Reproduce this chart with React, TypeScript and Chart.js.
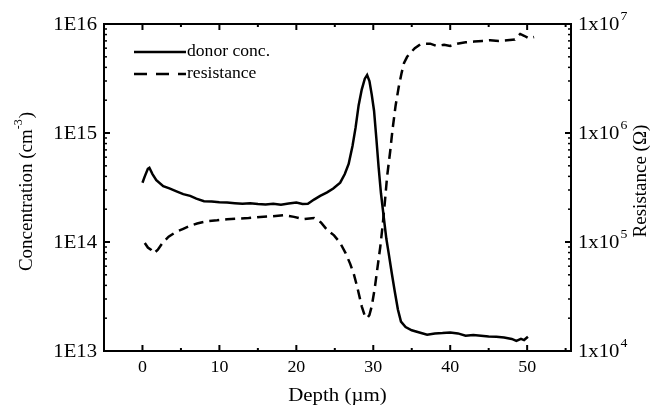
import React, { useEffect, useRef } from "react";
import { Chart, registerables } from "chart.js";

Chart.register(...registerables);

// Depth (µm) and donor concentration (cm^-3)
const donorDepth = [0.0, 0.3, 0.7, 0.9, 1.3, 1.8, 2.7, 3.5, 4.5, 5.3, 6.2, 7.0, 8.0, 9.0, 10, 11, 12, 13, 14, 15, 16, 17, 18, 19, 20, 20.8, 21.5, 22.3, 23.1, 24.0, 24.8, 25.7, 26.3, 26.8, 27.3, 27.7, 28.1, 28.5, 28.9, 29.2, 29.5, 29.8, 30.1, 30.4, 30.7, 31.0, 31.4, 31.7, 32.0, 32.4, 32.8, 33.2, 33.6, 34.2, 35.0, 36.0, 37.0, 38, 39, 40, 41, 42, 43, 44, 45, 46, 47, 48, 48.6, 49.2, 49.6, 50.1];
const donorConc = [3.5e14, 4.0e14, 4.7e14, 4.8e14, 4.2e14, 3.7e14, 3.25e14, 3.1e14, 2.9e14, 2.75e14, 2.65e14, 2.5e14, 2.37e14, 2.35e14, 2.32e14, 2.3e14, 2.27e14, 2.24e14, 2.27e14, 2.23e14, 2.21e14, 2.24e14, 2.2e14, 2.25e14, 2.3e14, 2.23e14, 2.24e14, 2.45e14, 2.65e14, 2.85e14, 3.1e14, 3.5e14, 4.2e14, 5.2e14, 7.6e14, 1.12e15, 1.8e15, 2.5e15, 3.15e15, 3.4e15, 3.0e15, 2.25e15, 1.6e15, 8.9e14, 4.8e14, 2.8e14, 1.6e14, 1.07e14, 7.9e13, 5.2e13, 3.5e13, 2.4e13, 1.86e13, 1.66e13, 1.55e13, 1.48e13, 1.41e13, 1.45e13, 1.46e13, 1.48e13, 1.45e13, 1.38e13, 1.4e13, 1.38e13, 1.36e13, 1.35e13, 1.33e13, 1.29e13, 1.24e13, 1.29e13, 1.26e13, 1.35e13];

// Depth (µm) and resistance (Ω)
const resDepth = [0.3, 0.7, 1.1, 1.5, 2.0, 2.6, 3.4, 4.3, 5.3, 6.2, 7.1, 8.4, 9.7, 11, 12.3, 13.8, 15.3, 16.8, 18.4, 19.7, 20.9, 22.3, 23.2, 24.0, 24.9, 25.7, 26.4, 27.0, 27.5, 27.9, 28.5, 28.9, 29.2, 29.5, 29.8, 30.2, 30.5, 30.9, 31.2, 31.5, 31.8, 32.2, 32.5, 32.9, 33.3, 33.7, 34.0, 34.4, 34.8, 35.4, 36.1, 36.8, 37.4, 38.2, 39.2, 40.0, 40.9, 42.0, 43.1, 44.2, 45.2, 46.3, 47.4, 48.4, 49.1, 49.6, 50.2, 50.9];
const resValue = [9.8e4, 8.9e4, 8.5e4, 7.9e4, 8.5e4, 9.8e4, 1.12e5, 1.23e5, 1.32e5, 1.41e5, 1.48e5, 1.55e5, 1.58e5, 1.62e5, 1.64e5, 1.66e5, 1.7e5, 1.72e5, 1.76e5, 1.7e5, 1.62e5, 1.66e5, 1.51e5, 1.29e5, 1.15e5, 9.8e4, 7.9e4, 6.3e4, 5.0e4, 3.9e4, 2.57e4, 2.1e4, 2.0e4, 2.14e4, 2.57e4, 3.8e4, 5.5e4, 8.9e4, 1.38e5, 2.3e5, 4.0e5, 6.8e5, 1.07e6, 1.78e6, 2.63e6, 3.6e6, 4.4e6, 5.0e6, 5.4e6, 6.0e6, 6.5e6, 6.6e6, 6.6e6, 6.3e6, 6.45e6, 6.3e6, 6.6e6, 6.8e6, 6.9e6, 7.0e6, 7.1e6, 7.0e6, 7.1e6, 7.2e6, 8.1e6, 7.8e6, 7.4e6, 7.6e6];

const xTicks = [0, 10, 20, 30, 40, 50];
const xMinorTicks = [-5, 5, 15, 25, 35, 45, 55];
const leftTicks = [1e13, 1e14, 1e15, 1e16];
const leftTickLabels = ["1E13", "1E14", "1E15", "1E16"];
const rightTicks = [1e4, 1e5, 1e6, 1e7];
const rightTickExp = ["4", "5", "6", "7"];

const seriesLabels = ["donor conc.", "resistance"];
const xTitle = "Depth (\u00b5m)";
const leftTitle = "Concentration (cm";
const leftTitleSup = "-3";
const rightTitle = "Resistance (\u03a9)";

const SERIF = '"Liberation Serif", "Times New Roman", serif';
const DASH = [10, 6];

const framePlugin = {
  id: "frameTicks",
  afterDraw(chart: any) {
    const ctx = chart.ctx as CanvasRenderingContext2D;
    const { left, right, top, bottom } = chart.chartArea;
    const xs = chart.scales.x;
    const yl = chart.scales.y;
    const yr = chart.scales.y2;
    ctx.save();
    ctx.strokeStyle = "#000";
    ctx.fillStyle = "#000";
    ctx.lineWidth = 2;
    ctx.setLineDash([]);
    ctx.strokeRect(left, top, right - left, bottom - top);

    const line = (x1: number, y1: number, x2: number, y2: number, w: number) => {
      ctx.lineWidth = w;
      ctx.beginPath();
      ctx.moveTo(x1, y1);
      ctx.lineTo(x2, y2);
      ctx.stroke();
    };
    const text = (t: string, x: number, y: number, size: number, align: CanvasTextAlign, sx = 1.12, baseline: CanvasTextBaseline = "middle") => {
      ctx.save();
      ctx.font = `${size}px ${SERIF}`;
      ctx.textAlign = align;
      ctx.textBaseline = baseline;
      ctx.translate(x, y);
      ctx.scale(sx, 1);
      ctx.fillText(t, 0, 0);
      ctx.restore();
    };

    // x ticks
    xTicks.forEach((v) => {
      const px = xs.getPixelForValue(v);
      line(px, bottom, px, bottom - 6, 2);
      line(px, top, px, top + 6, 2);
      text(String(v), px, bottom + 17, 16, "center");
    });
    xMinorTicks.forEach((v) => {
      const px = xs.getPixelForValue(v);
      if (px < left + 1 || px > right - 1) return;
      line(px, bottom, px, bottom - 3, 2);
      line(px, top, px, top + 3, 2);
    });

    // log ticks
    const logTicks = (scale: any, majors: number[], isLeft: boolean) => {
      const edge = isLeft ? left : right;
      const dir = isLeft ? 1 : -1;
      majors.forEach((m, i) => {
        const py = scale.getPixelForValue(m);
        line(edge, py, edge + dir * 6, py, 2);
        if (i < majors.length - 1) {
          for (let k = 2; k <= 9; k++) {
            const pm = scale.getPixelForValue(m * k);
            line(edge, pm, edge + dir * 3, pm, 1.5);
          }
        }
      });
    };
    logTicks(yl, leftTicks, true);
    logTicks(yr, rightTicks, false);

    leftTicks.forEach((v, i) => {
      const py = yl.getPixelForValue(v);
      text(leftTickLabels[i], left - 7, py + 1, 18, "right", 1.15);
    });
    rightTicks.forEach((v, i) => {
      const py = yr.getPixelForValue(v);
      ctx.font = `18px ${SERIF}`;
      const w = ctx.measureText("1x10").width * 1.15;
      text("1x10", right + 7, py + 1, 18, "left", 1.15);
      text(rightTickExp[i], right + 7 + w + 1, py - 7, 12, "left", 1.15);
    });

    // x title
    text(xTitle, (left + right) / 2, 396, 19, "center", 1.1);

    // left title (rotated)
    ctx.save();
    ctx.translate(27, (top + bottom) / 2 + 4);
    ctx.rotate(-Math.PI / 2);
    ctx.textBaseline = "middle";
    ctx.font = `19px ${SERIF}`;
    const w1 = ctx.measureText(leftTitle).width;
    ctx.font = `12px ${SERIF}`;
    const w2 = ctx.measureText(leftTitleSup).width;
    ctx.font = `19px ${SERIF}`;
    const w3 = ctx.measureText(")").width;
    const total = w1 + w2 + w3 + 1;
    let cx = -total / 2;
    ctx.textAlign = "left";
    ctx.fillText(leftTitle, cx, 0);
    cx += w1;
    ctx.font = `12px ${SERIF}`;
    ctx.fillText(leftTitleSup, cx, -8);
    cx += w2 + 1;
    ctx.font = `19px ${SERIF}`;
    ctx.fillText(")", cx, 0);
    ctx.restore();

    // right title (rotated)
    ctx.save();
    ctx.translate(641, 181);
    ctx.rotate(-Math.PI / 2);
    ctx.textAlign = "center";
    ctx.textBaseline = "middle";
    ctx.font = `19px ${SERIF}`;
    ctx.fillText(rightTitle, 0, 0);
    ctx.restore();

    // legend
    const ds = chart.data.datasets;
    const legY = [52, 74];
    ds.forEach((d: any, i: number) => {
      ctx.save();
      ctx.strokeStyle = d.borderColor;
      ctx.lineWidth = d.borderWidth;
      ctx.setLineDash(i === 1 ? [13, 9] : []);
      ctx.beginPath();
      ctx.moveTo(134, legY[i]);
      ctx.lineTo(186, legY[i]);
      ctx.stroke();
      ctx.restore();
      text(seriesLabels[i], 187, legY[i], 16, "left", 1.1);
    });
    ctx.restore();
  },
};

export default function App() {
  const ref = useRef<HTMLCanvasElement | null>(null);
  useEffect(() => {
    document.body.style.margin = "0";
    const canvas = ref.current!;
    const chart = new Chart(canvas, {
      type: "line",
      data: {
        datasets: [
          {
            label: seriesLabels[0],
            data: donorDepth.map((x, i) => ({ x, y: donorConc[i] })),
            borderColor: "#000",
            borderWidth: 2.5,
            pointRadius: 0,
            tension: 0,
            yAxisID: "y",
          },
          {
            label: seriesLabels[1],
            data: resDepth.map((x, i) => ({ x, y: resValue[i] })),
            borderColor: "#000",
            borderWidth: 2.5,
            borderDash: DASH,
            pointRadius: 0,
            tension: 0,
            yAxisID: "y2",
          },
        ],
      },
      options: {
        animation: false,
        responsive: false,
        devicePixelRatio: 1,
        layout: { padding: { left: 104, right: 80, top: 24, bottom: 60 } },
        plugins: { legend: { display: false }, tooltip: { enabled: false } },
        scales: {
          x: { type: "linear", min: -5, max: 55.7, display: false },
          y: { type: "logarithmic", min: 1e13, max: 1e16, display: false },
          y2: { type: "logarithmic", min: 1e4, max: 1e7, display: false, position: "right" },
        },
      },
      plugins: [framePlugin],
    });
    return () => chart.destroy();
  }, []);
  return (
    <div style={{ position: "absolute", left: 0, top: 0, width: 651, height: 411, background: "#fff" }}>
      <canvas ref={ref} width={651} height={411} style={{ display: "block" }} />
    </div>
  );
}
